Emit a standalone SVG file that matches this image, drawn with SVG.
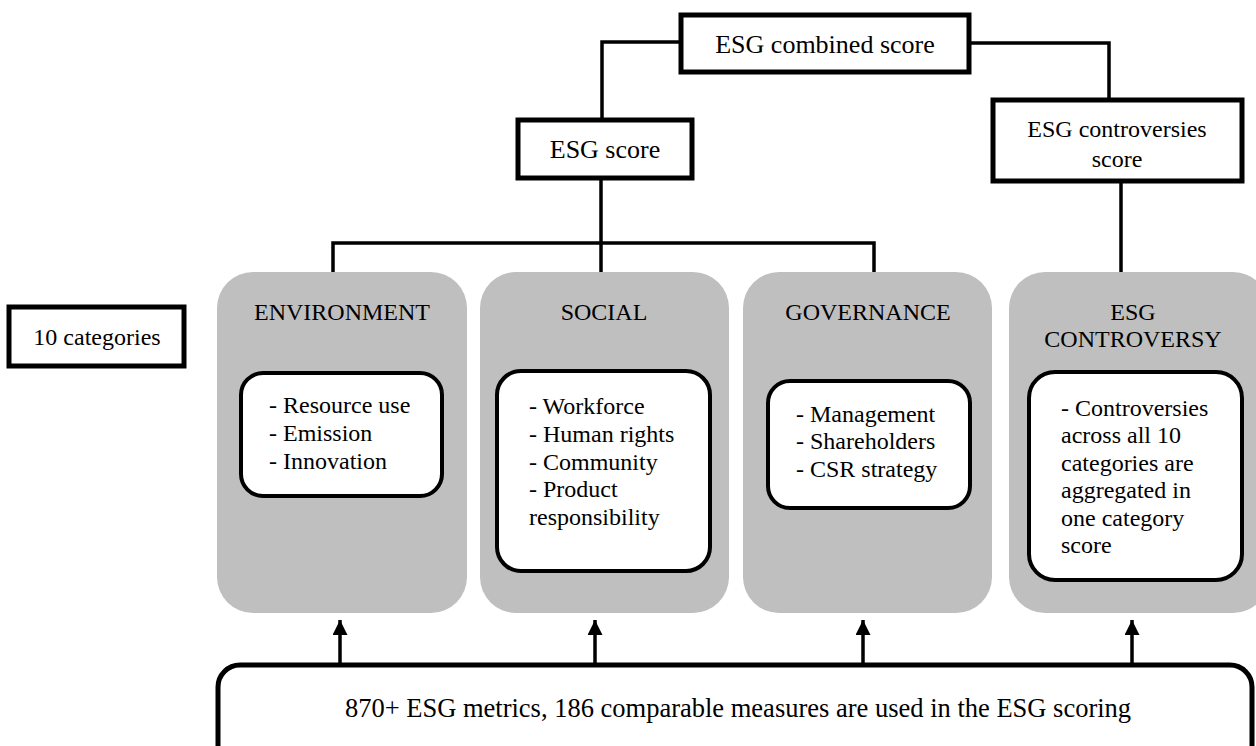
<svg xmlns="http://www.w3.org/2000/svg" width="1256" height="746" viewBox="0 0 1256 746" font-family="'Liberation Serif', 'Times New Roman', Times, serif">
<defs>
<style>
text{font-family:'Liberation Serif','Times New Roman',Times,serif;fill:#000;font-size:24px}
.mid{text-anchor:middle}
.score{fill:#fff;stroke:#000;stroke-width:5}
.cat{fill:#bfbfbf;stroke:none}
.inner{fill:#fff;stroke:#000;stroke-width:4}
.conn{fill:none;stroke:#000;stroke-width:3.5}
</style>
<marker id="ah" viewBox="0 0 10 10" refX="10" refY="5" markerWidth="15" markerHeight="15" markerUnits="userSpaceOnUse" orient="auto">
<path d="M0,0 L10,5 L0,10 Z" fill="#000"/>
</marker>
</defs>
<rect width="1256" height="746" fill="#fff"/>

<g id="connectors">
<polyline class="conn" points="680,42 602,42 602,118"/>
<polyline class="conn" points="970,43 1109,43 1109,98"/>
<line class="conn" x1="601" y1="179" x2="601" y2="272"/>
<polyline class="conn" points="333,272 333,243 874,243 874,272"/>
<line class="conn" x1="1121" y1="182" x2="1121" y2="272"/>
<line class="conn" x1="340" y1="665" x2="340" y2="620" marker-end="url(#ah)"/>
<line class="conn" x1="595" y1="665" x2="595" y2="620" marker-end="url(#ah)"/>
<line class="conn" x1="863" y1="665" x2="863" y2="620" marker-end="url(#ah)"/>
<line class="conn" x1="1132" y1="665" x2="1132" y2="620" marker-end="url(#ah)"/>
</g>

<g id="combined">
<rect class="score" x="681" y="15" width="288" height="57"/>
<text class="mid" x="825" y="53" style="font-size:26px">ESG combined score</text>
</g>

<g id="esg-score">
<rect class="score" x="518" y="120" width="174" height="58"/>
<text class="mid" x="605" y="158" style="font-size:26px">ESG score</text>
</g>

<g id="controversies-score">
<rect class="score" x="993" y="100" width="249" height="81"/>
<text class="mid" x="1117" y="137">ESG controversies</text>
<text class="mid" x="1117" y="167">score</text>
</g>

<g id="ten-categories">
<rect class="score" x="9" y="307" width="175" height="59"/>
<text class="mid" x="97" y="345">10 categories</text>
</g>

<g id="environment">
<rect class="cat" x="217" y="272" width="250" height="341" rx="36"/>
<text class="mid" x="342" y="320">ENVIRONMENT</text>
<rect class="inner" x="241" y="373" width="201" height="123" rx="22"/>
<text x="269" y="413">- Resource use</text>
<text x="269" y="441">- Emission</text>
<text x="269" y="469">- Innovation</text>
</g>

<g id="social">
<rect class="cat" x="480" y="272" width="249" height="341" rx="36"/>
<text class="mid" x="604" y="320">SOCIAL</text>
<rect class="inner" x="497" y="371" width="213" height="200" rx="24"/>
<text x="529" y="414">- Workforce</text>
<text x="529" y="442">- Human rights</text>
<text x="529" y="470">- Community</text>
<text x="529" y="497">- Product</text>
<text x="529" y="525">responsibility</text>
</g>

<g id="governance">
<rect class="cat" x="743" y="272" width="249" height="341" rx="36"/>
<text class="mid" x="868" y="320">GOVERNANCE</text>
<rect class="inner" x="768" y="381" width="202" height="127" rx="22"/>
<text x="796" y="422">- Management</text>
<text x="796" y="449">- Shareholders</text>
<text x="796" y="477">- CSR strategy</text>
</g>

<g id="controversy">
<rect class="cat" x="1009" y="272" width="260" height="341" rx="36"/>
<text class="mid" x="1133" y="320">ESG</text>
<text class="mid" x="1133" y="347">CONTROVERSY</text>
<rect class="inner" x="1029" y="372" width="213" height="208" rx="26"/>
<text x="1061" y="416">- Controversies</text>
<text x="1061" y="443">across all 10</text>
<text x="1061" y="471">categories are</text>
<text x="1061" y="498">aggregated in</text>
<text x="1061" y="526">one category</text>
<text x="1061" y="553">score</text>
</g>

<g id="metrics">
<rect class="score" x="218" y="665" width="1034" height="110" rx="22"/>
<text class="mid" x="738" y="717" style="font-size:26.5px">870+ ESG metrics, 186 comparable measures are used in the ESG scoring</text>
</g>
</svg>
